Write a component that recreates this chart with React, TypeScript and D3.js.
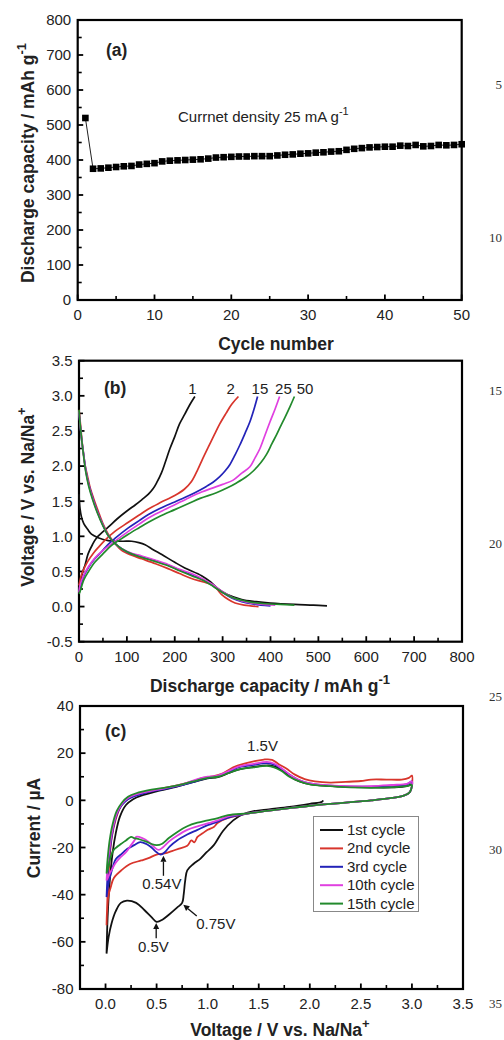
import React from 'react';
import * as d3 from 'd3';

const FONT = "'Liberation Sans', Arial, Helvetica, sans-serif";
type Pt = [number, number];

// (a) discharge capacity vs cycle
const cycleNumbers = d3.range(1, 51);
const dischargeCapacity = [
  520, 375, 376, 378, 380, 382, 383, 387, 389, 391,
  396, 398, 399, 400, 401, 402, 404, 407, 408, 409,
  410, 410, 411, 411, 411, 413, 415, 416, 418, 419,
  421, 422, 424, 425, 429, 432, 434, 436, 437, 438,
  438, 441, 440, 443, 439, 440, 443, 442, 443, 445,
];

// (b) charge / discharge profiles (capacity mAh/g, voltage V)
const profileLabels = ['1', '2', '15', '25', '50'];
const profileColors = ['#111111', '#d8352c', '#2323b8', '#e040e0', '#228a2c'];
const charge1: Pt[] = [[0, 0.25], [3, 0.35], [8, 0.5], [13, 0.6], [19, 0.75], [28, 0.88], [37, 0.98], [61, 1.13], [80, 1.25], [100, 1.36], [118, 1.45], [131, 1.52], [145, 1.6], [155, 1.68], [162, 1.76], [172, 1.9], [180, 2.05], [190, 2.25], [200, 2.42], [210, 2.6], [221, 2.74], [232, 2.88], [242, 2.99]];
const discharge1: Pt[] = [[0, 1.6], [2, 1.4], [5, 1.28], [10, 1.18], [18, 1.1], [26, 1.03], [40, 0.98], [61, 0.94], [90, 0.93], [110, 0.93], [125, 0.91], [138, 0.88], [155, 0.81], [173, 0.74], [200, 0.63], [221, 0.55], [256, 0.44], [275, 0.35], [291, 0.25], [310, 0.17], [340, 0.1], [370, 0.07], [400, 0.05], [450, 0.03], [490, 0.02], [518, 0.01]];
const charge2: Pt[] = [[0, 0.3], [5, 0.45], [12, 0.56], [19, 0.65], [30, 0.76], [40, 0.84], [55, 0.95], [75, 1.07], [103, 1.2], [125, 1.3], [145, 1.39], [170, 1.48], [200, 1.58], [220, 1.67], [235, 1.78], [248, 1.95], [258, 2.1], [270, 2.27], [283, 2.45], [294, 2.6], [307, 2.75], [319, 2.88], [333, 2.99]];
const discharge2: Pt[] = [[0, 2.8], [3, 2.6], [5.6, 2.4], [9, 2.2], [12.5, 2.02], [18, 1.85], [23, 1.7], [30, 1.55], [40, 1.36], [50, 1.18], [61, 1.03], [75, 0.9], [89, 0.8], [110, 0.73], [131, 0.68], [160, 0.61], [186, 0.54], [210, 0.47], [235, 0.4], [260, 0.35], [277, 0.31], [288, 0.25], [298, 0.17], [312, 0.1], [326, 0.05], [345, 0.02], [375, 0.0]];
const charge15: Pt[] = [[0, 0.22], [2, 0.26], [8, 0.4], [19, 0.55], [33, 0.68], [47, 0.78], [60, 0.88], [75, 0.97], [103, 1.12], [125, 1.22], [145, 1.31], [170, 1.4], [200, 1.49], [230, 1.58], [253, 1.66], [266, 1.71], [280, 1.77], [294, 1.85], [305, 1.93], [315, 2.02], [326, 2.16], [336, 2.3], [347, 2.47], [357, 2.63], [366, 2.82], [373, 2.99]];
const discharge15: Pt[] = [[0, 2.75], [3, 2.55], [6, 2.35], [10, 2.15], [14, 1.95], [20, 1.75], [28, 1.56], [38, 1.36], [50, 1.16], [62, 1.0], [75, 0.9], [90, 0.82], [110, 0.75], [131, 0.71], [160, 0.65], [186, 0.59], [210, 0.52], [235, 0.45], [260, 0.38], [280, 0.3], [300, 0.2], [320, 0.12], [340, 0.07], [360, 0.04], [380, 0.02], [400, 0.01]];
const charge25: Pt[] = [[0, 0.2], [2, 0.3], [10, 0.45], [20, 0.57], [33, 0.69], [50, 0.8], [75, 0.93], [103, 1.07], [125, 1.17], [145, 1.26], [170, 1.35], [200, 1.45], [230, 1.55], [256, 1.63], [280, 1.69], [300, 1.74], [322, 1.8], [340, 1.9], [357, 1.99], [368, 2.12], [378, 2.25], [389, 2.45], [399, 2.63], [410, 2.82], [419, 2.99]];
const discharge25: Pt[] = [[0, 2.78], [3, 2.55], [6, 2.35], [10, 2.14], [14, 1.94], [20, 1.74], [28, 1.55], [38, 1.35], [50, 1.16], [62, 1.0], [75, 0.9], [90, 0.82], [110, 0.76], [131, 0.72], [160, 0.66], [186, 0.6], [210, 0.53], [235, 0.47], [260, 0.39], [280, 0.31], [300, 0.21], [320, 0.13], [340, 0.08], [360, 0.05], [385, 0.03], [410, 0.02]];
const charge50: Pt[] = [[0, 0.18], [2, 0.21], [10, 0.38], [20, 0.5], [33, 0.63], [50, 0.75], [68, 0.87], [85, 0.95], [103, 1.03], [125, 1.12], [145, 1.2], [170, 1.29], [200, 1.38], [230, 1.47], [253, 1.54], [287, 1.62], [310, 1.69], [329, 1.76], [348, 1.84], [364, 1.93], [380, 2.05], [392, 2.17], [403, 2.32], [413, 2.45], [422, 2.58], [430, 2.69], [441, 2.85], [450, 2.99]];
const discharge50: Pt[] = [[0, 2.8], [3, 2.55], [6, 2.35], [10, 2.12], [14, 1.92], [20, 1.72], [28, 1.53], [38, 1.34], [50, 1.15], [62, 1.0], [75, 0.9], [90, 0.82], [110, 0.75], [131, 0.7], [160, 0.64], [186, 0.58], [210, 0.51], [235, 0.44], [260, 0.37], [280, 0.29], [300, 0.2], [320, 0.13], [340, 0.09], [360, 0.06], [390, 0.04], [420, 0.03], [450, 0.02]];
const profileCharge = [charge1, charge2, charge15, charge25, charge50];
const profileDischarge = [discharge1, discharge2, discharge15, discharge25, discharge50];
const profileLabelCap = [237, 317, 378, 427, 472];

// (c) cyclic voltammetry (V, uA)
const cvLabels = ['1st cycle', '2nd cycle', '3rd cycle', '10th cycle', '15th cycle'];
const cvHighSweep: Pt[] = [[3.0, 6], [2.98, 3.5], [2.92, 2], [2.8, 1], [2.6, 0], [2.4, -0.8], [2.2, -1.5], [2.0, -2.3], [1.8, -3.3], [1.58, -4.5], [1.4, -5.5]];
const cvLower1: Pt[] = [[2.13, 0], [2.12, -0.6], [2.0, -1.5], [1.8, -2.8], [1.6, -3.8], [1.45, -4.6], [1.35, -5.8], [1.25, -8.5], [1.15, -13], [1.06, -19], [0.99, -22], [0.93, -24.7], [0.86, -27], [0.8, -29.7], [0.78, -34], [0.765, -40], [0.75, -43.5], [0.7, -45.5], [0.62, -48.5], [0.56, -50.5], [0.5, -51.5], [0.45, -49.5], [0.38, -46.5], [0.3, -43.5], [0.21, -42.5], [0.15, -43.5], [0.1, -47], [0.06, -52], [0.03, -58], [0.01, -65]];
const cvUpper1: Pt[] = [[0.01, -65], [0.02, -50], [0.04, -35], [0.07, -22], [0.1, -14], [0.14, -7], [0.2, -2], [0.27, 0.5], [0.35, 2], [0.5, 3.8], [0.7, 5.8], [0.9, 8.2], [1.0, 9.3], [1.1, 9.8], [1.2, 11.5], [1.3, 13], [1.45, 14.2], [1.6, 14.8], [1.68, 14], [1.75, 12], [1.85, 9], [1.95, 7.3], [2.1, 6.3], [2.3, 5.8], [2.6, 5.5], [2.8, 5.5], [2.95, 6], [3.0, 7]];
const cvLower2: Pt[] = [[1.2, -7.5], [1.1, -9.5], [1.06, -11.3], [1.0, -12.5], [0.95, -14], [0.9, -15.5], [0.87, -17.8], [0.84, -17], [0.8, -19.3], [0.72, -20.5], [0.65, -21.5], [0.58, -22.5], [0.5, -23], [0.42, -24.5], [0.35, -25.5], [0.24, -27], [0.16, -29.5], [0.08, -33], [0.05, -37], [0.03, -40], [0.015, -47], [0.01, -53]];
const cvUpper2: Pt[] = [[0.01, -53], [0.02, -40], [0.035, -28], [0.06, -16], [0.1, -8], [0.15, -2.5], [0.2, 0], [0.28, 2], [0.4, 3.5], [0.55, 5], [0.7, 6.3], [0.85, 8], [0.95, 9.5], [1.05, 10.2], [1.15, 11.5], [1.25, 14], [1.35, 15.5], [1.45, 16.5], [1.55, 17.3], [1.63, 17.2], [1.7, 15.2], [1.77, 13.5], [1.85, 11], [1.95, 9], [2.05, 8], [2.2, 7.5], [2.35, 7.8], [2.5, 8.2], [2.6, 8.8], [2.75, 8.8], [2.9, 8.8], [2.97, 9.5], [3.0, 10.5]];
const cvLower3: Pt[] = [[1.2, -7.3], [1.1, -9], [1.0, -10.5], [0.9, -12.5], [0.8, -14.5], [0.7, -17], [0.63, -19.5], [0.58, -22], [0.54, -23], [0.5, -22], [0.45, -20], [0.4, -18.5], [0.34, -17.7], [0.28, -19], [0.2, -21], [0.16, -22.6], [0.1, -25], [0.06, -30], [0.03, -35], [0.01, -41]];
const cvUpper3: Pt[] = [[0.01, -41], [0.02, -32], [0.04, -22], [0.07, -13], [0.11, -6], [0.16, -2], [0.22, 0.5], [0.3, 2], [0.45, 3.8], [0.6, 5], [0.75, 6.5], [0.9, 8.3], [1.0, 9.5], [1.1, 10.3], [1.2, 12], [1.3, 14], [1.45, 15], [1.58, 15.8], [1.65, 15.2], [1.72, 13.5], [1.8, 11], [1.9, 8.5], [2.0, 7.2], [2.2, 6.2], [2.4, 5.8], [2.6, 5.8], [2.8, 6.2], [2.95, 6.8], [3.0, 8]];
const cvLower10: Pt[] = [[1.2, -6.8], [1.1, -8.5], [1.0, -9.8], [0.9, -11], [0.8, -12.5], [0.7, -15], [0.62, -17.5], [0.56, -20], [0.52, -21], [0.48, -20], [0.42, -17.5], [0.36, -16], [0.3, -15.5], [0.29, -16.5], [0.25, -19], [0.2, -22], [0.15, -24], [0.1, -26.5], [0.06, -29.5], [0.03, -32], [0.01, -34]];
const cvUpper10: Pt[] = [[0.01, -34], [0.02, -28], [0.04, -20], [0.07, -12], [0.11, -5.5], [0.16, -1.5], [0.22, 1], [0.3, 2.5], [0.45, 4], [0.6, 5.3], [0.75, 6.8], [0.9, 9], [1.0, 10], [1.1, 10.5], [1.2, 12.3], [1.3, 14.3], [1.45, 15.5], [1.58, 16.3], [1.65, 15.6], [1.72, 13.7], [1.8, 11], [1.9, 8.5], [2.0, 7.2], [2.2, 6.3], [2.4, 6], [2.6, 6], [2.8, 6.5], [2.95, 7], [3.0, 8]];
const cvLower15: Pt[] = [[1.2, -6.3], [1.1, -7.5], [1.0, -8.5], [0.9, -9.5], [0.8, -11], [0.7, -13.5], [0.62, -16], [0.55, -18.5], [0.5, -19], [0.45, -18.5], [0.4, -17.5], [0.33, -16.5], [0.28, -16], [0.25, -15.5], [0.2, -17], [0.15, -18.5], [0.12, -19.5], [0.08, -21], [0.05, -24], [0.03, -28], [0.01, -31]];
const cvUpper15: Pt[] = [[0.01, -31], [0.02, -25], [0.04, -17], [0.07, -10], [0.11, -4.5], [0.16, -1], [0.22, 1.5], [0.3, 3], [0.45, 4.5], [0.6, 5.5], [0.75, 6.8], [0.9, 8.5], [1.0, 9.5], [1.1, 10], [1.2, 11.5], [1.3, 13], [1.45, 14], [1.58, 14.6], [1.65, 14], [1.72, 12.5], [1.8, 10], [1.9, 8], [2.0, 6.8], [2.2, 6], [2.4, 5.5], [2.6, 5.3], [2.8, 5.5], [2.95, 6], [3.0, 6.5]];
const cvLoops: Pt[][] = [
  [...cvLower1, ...cvUpper1],
  [...cvHighSweep, ...cvLower2, ...cvUpper2, cvHighSweep[0]],
  [...cvHighSweep, ...cvLower3, ...cvUpper3, cvHighSweep[0]],
  [...cvHighSweep, ...cvLower10, ...cvUpper10, cvHighSweep[0]],
  [...cvHighSweep, ...cvLower15, ...cvUpper15, cvHighSweep[0]],
];

const pageLineNumbers = ['5', '10', '15', '20', '25', '30', '35'];

type Scale = d3.ScaleLinear<number, number>;

function Frame({ x, y, xMajor, xMinor, yMajor, yMinor, fx, fy }: {
  x: Scale; y: Scale; xMajor: number[]; xMinor: number[]; yMajor: number[]; yMinor: number[];
  fx: (v: number) => string; fy: (v: number) => string;
}) {
  const [x0, x1] = x.range();
  const [y0, y1] = y.range(); // y0 bottom, y1 top
  return (
    <g>
      {xMinor.map((v) => <line key={'xm' + v} x1={x(v)} x2={x(v)} y1={y0} y2={y0 - 4} stroke="#000" strokeWidth={1.6} />)}
      {xMajor.map((v) => <line key={'xM' + v} x1={x(v)} x2={x(v)} y1={y0} y2={y0 - 5.5} stroke="#000" strokeWidth={1.8} />)}
      {yMinor.map((v) => <line key={'ym' + v} x1={x0} x2={x0 + 4} y1={y(v)} y2={y(v)} stroke="#000" strokeWidth={1.6} />)}
      {yMajor.map((v) => <line key={'yM' + v} x1={x0} x2={x0 + 5.5} y1={y(v)} y2={y(v)} stroke="#000" strokeWidth={1.8} />)}
      <rect x={x0} y={y1} width={x1 - x0} height={y0 - y1} fill="none" stroke="#000" strokeWidth={2.2} />
      {xMajor.map((v) => (
        <text key={'xl' + v} x={x(v)} y={y0 + 20} textAnchor="middle" fontSize={15} fill="#222">{fx(v)}</text>
      ))}
      {yMajor.map((v) => (
        <text key={'yl' + v} x={x0 - 6.5} y={y(v) + 5.3} textAnchor="end" fontSize={15} fill="#222">{fy(v)}</text>
      ))}
    </g>
  );
}

function PanelA() {
  const x = d3.scaleLinear().domain([0, 50]).range([77.7, 461.7]);
  const y = d3.scaleLinear().domain([0, 800]).range([300, 20]);
  const pts = cycleNumbers.map((c, i) => [c, dischargeCapacity[i]] as Pt);
  const line = d3.line<Pt>().x((d) => x(d[0])).y((d) => y(d[1]));
  return (
    <g>
      <Frame x={x} y={y} xMajor={d3.range(0, 51, 10)} xMinor={d3.range(5, 50, 10)}
        yMajor={d3.range(0, 801, 100)} yMinor={d3.range(50, 800, 100)} fx={String} fy={String} />
      <path d={line(pts) ?? ''} fill="none" stroke="#222" strokeWidth={1} />
      {pts.map((d) => (
        <rect key={d[0]} x={x(d[0]) - 3.3} y={y(d[1]) - 3.3} width={6.6} height={6.6} fill="#000" />
      ))}
      <text x={106} y={56} fontSize={17.5} fontWeight="bold" fill="#222">(a)</text>
      <text x={178} y={122} fontSize={15} fill="#222">
        Currnet density 25 mA g<tspan dy={-7} fontSize={11}>-1</tspan>
      </text>
      <text x={276} y={350} textAnchor="middle" fontSize={17.5} fontWeight="bold" fill="#222">Cycle number</text>
      <text transform="translate(34,163) rotate(-90)" textAnchor="middle" fontSize={17.5} fontWeight="bold" fill="#222">
        Discharge capacity / mAh g<tspan dy={-8} fontSize={13}>-1</tspan>
      </text>
    </g>
  );
}

function PanelB() {
  const x = d3.scaleLinear().domain([0, 800]).range([79, 462]);
  const y = d3.scaleLinear().domain([-0.5, 3.5]).range([641.7, 360.7]);
  const line = d3.line<Pt>().x((d) => x(d[0])).y((d) => y(d[1])).curve(d3.curveCatmullRom.alpha(0.5));
  return (
    <g>
      <Frame x={x} y={y} xMajor={d3.range(0, 801, 100)} xMinor={d3.range(50, 800, 100)}
        yMajor={d3.range(-0.5, 3.51, 0.5)} yMinor={d3.range(-0.25, 3.5, 0.5)}
        fx={String} fy={(v) => v.toFixed(1)} />
      {profileColors.map((c, i) => (
        <g key={i}>
          <path d={line(profileDischarge[i]) ?? ''} fill="none" stroke={c} strokeWidth={1.7} />
          <path d={line(profileCharge[i]) ?? ''} fill="none" stroke={c} strokeWidth={1.7} />
        </g>
      ))}
      {profileLabels.map((t, i) => (
        <text key={t} x={x(profileLabelCap[i])} y={y(3.03)} textAnchor="middle" fontSize={15} fill="#222">{t}</text>
      ))}
      <text x={104} y={394} fontSize={17.5} fontWeight="bold" fill="#222">(b)</text>
      <text x={270} y={692} textAnchor="middle" fontSize={17.5} fontWeight="bold" fill="#222">
        Discharge capacity / mAh g<tspan dy={-8} fontSize={13}>-1</tspan>
      </text>
      <text transform="translate(34,497) rotate(-90)" textAnchor="middle" fontSize={17.5} fontWeight="bold" fill="#222">
        Voltage / V vs. Na/Na<tspan dy={-8} fontSize={13}>+</tspan>
      </text>
    </g>
  );
}

function Arrow({ x1, y1, x2, y2 }: { x1: number; y1: number; x2: number; y2: number }) {
  const a = Math.atan2(y2 - y1, x2 - x1);
  const h = 6, w = 3;
  const bx = x2 - h * Math.cos(a), by = y2 - h * Math.sin(a);
  const pts = [
    [x2, y2],
    [bx + w * Math.sin(a), by - w * Math.cos(a)],
    [bx - w * Math.sin(a), by + w * Math.cos(a)],
  ].map((p) => p.join(',')).join(' ');
  return (
    <g>
      <line x1={x1} y1={y1} x2={bx} y2={by} stroke="#111" strokeWidth={1.3} />
      <polygon points={pts} fill="#111" />
    </g>
  );
}

function PanelC() {
  const x = d3.scaleLinear().domain([-0.25, 3.5]).range([80, 463]);
  const y = d3.scaleLinear().domain([-80, 40]).range([989, 706]);
  const line = d3.line<Pt>().x((d) => x(d[0])).y((d) => y(d[1])).curve(d3.curveCatmullRom.alpha(0.5));
  const legendRows = cvLabels.map((_, i) => 830 + i * 18.4);
  return (
    <g>
      <Frame x={x} y={y} xMajor={d3.range(0, 3.51, 0.5)} xMinor={d3.range(0.25, 3.5, 0.5)}
        yMajor={d3.range(-80, 41, 20)} yMinor={d3.range(-70, 40, 20)}
        fx={(v) => v.toFixed(1)} fy={String} />
      {cvLoops.map((pts, i) => (
        <path key={i} d={line(pts) ?? ''} fill="none" stroke={profileColors[i]} strokeWidth={1.8} />
      ))}
      <text x={x(1.537)} y={y(21.1)} textAnchor="middle" fontSize={15} fill="#222">1.5V</text>
      <Arrow x1={x(0.567)} y1={y(-32)} x2={x(0.567)} y2={y(-23.5)} />
      <text x={x(0.551)} y={y(-37.6)} textAnchor="middle" fontSize={15} fill="#222">0.54V</text>
      <Arrow x1={x(0.496)} y1={y(-58.5)} x2={x(0.496)} y2={y(-52)} />
      <text x={x(0.469)} y={y(-64.5)} textAnchor="middle" fontSize={15} fill="#222">0.5V</text>
      <Arrow x1={x(0.893)} y1={y(-49)} x2={x(0.762)} y2={y(-44.3)} />
      <text x={x(1.08)} y={y(-54.6)} textAnchor="middle" fontSize={15} fill="#222">0.75V</text>
      <rect x={313.5} y={816.5} width={105} height={95} fill="#fff" stroke="#888" strokeWidth={1} />
      {cvLabels.map((t, i) => (
        <g key={t}>
          <line x1={320} x2={343} y1={legendRows[i]} y2={legendRows[i]} stroke={profileColors[i]} strokeWidth={2} />
          <text x={347} y={legendRows[i] + 5} fontSize={15} fill="#222">{t}</text>
        </g>
      ))}
      <text x={105} y={737} fontSize={17.5} fontWeight="bold" fill="#222">(c)</text>
      <text x={280} y={1036} textAnchor="middle" fontSize={17.5} fontWeight="bold" fill="#222">
        Voltage / V vs. Na/Na<tspan dy={-8} fontSize={13}>+</tspan>
      </text>
      <text transform="translate(40,828) rotate(-90)" textAnchor="middle" fontSize={17.5} fontWeight="bold" fill="#222">
        Current / µA
      </text>
    </g>
  );
}

export default function App() {
  const lineY = d3.scaleLinear().domain([0, pageLineNumbers.length - 1]).range([84, 1003]);
  return (
    <svg width={504} height={1040} style={{ position: 'absolute', left: 0, top: 0, background: '#fff' }} fontFamily={FONT}>
      <rect width={504} height={1040} fill="#fff" />
      <PanelA />
      <PanelB />
      <PanelC />
      {pageLineNumbers.map((t, i) => (
        <text key={t} x={502} y={lineY(i) + 4.5} textAnchor="end" fontSize={13}
          fontFamily="'Liberation Serif', 'Times New Roman', serif" fill="#333">{t}</text>
      ))}
    </svg>
  );
}
